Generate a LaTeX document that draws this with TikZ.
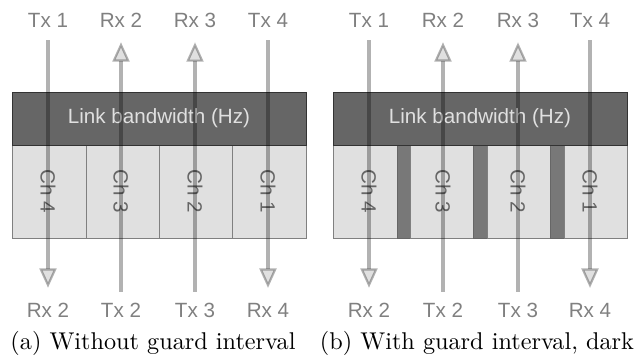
\documentclass[tikz,border=0pt]{standalone}
\usepackage{fontspec}
\newfontfamily\labelfont{Liberation Sans}
\usetikzlibrary{arrows.meta}

\begin{document}
\begin{tikzpicture}[x=0.4125pt, y=-0.4125pt,
    lbl/.style={inner sep=0pt, text=black!50, font=\labelfont\fontsize{8.5}{10}\selectfont},
    chlbl/.style={lbl, text=black!60, rotate=-90},
    hdr/.style={lbl, text=black!12},
    band/.style={fill=black!60, draw=black!80, line width=0.4pt},
    chan/.style={fill=black!12, draw=black!50, line width=0.4pt},
    guard/.style={fill=black!53, draw=black!60, line width=0.4pt},
    sig/.style={draw=black, opacity=0.3, line width=1.5pt,
        -{Triangle[length=8pt, width=7pt, fill=black!40, line width=0.9pt]}},
    sigdown/.style={sig, shorten <=5.2pt, shorten >=6pt},
    sigup/.style={sig, shorten <=4.4pt, shorten >=6pt}]
    \useasboundingbox (0,0) rectangle (640,363);

    % (a) channels side by side
    \draw[chan] (12,145) rectangle (86,238);
    \draw[chan] (86,145) rectangle (159,238);
    \draw[chan] (159,145) rectangle (232,238);
    \draw[chan] (232,145) rectangle (306,238);
    \draw[band] (12,92) rectangle (306,145);
    \node[hdr] (a-bw) at (159,118.5) {Link bandwidth (Hz)};
    \node[chlbl] (a-c4) at (48,191) {Ch 4};
    \node[chlbl] (a-c3) at (121,191) {Ch 3};
    \node[chlbl] (a-c2) at (195,191) {Ch 2};
    \node[chlbl] (a-c1) at (268,191) {Ch 1};
    \node[lbl] (a-t1) at (48,20) {Tx 1};
    \node[lbl] (a-r2t) at (121,20) {Rx 2};
    \node[lbl] (a-r3) at (195,20) {Rx 3};
    \node[lbl] (a-t4) at (268,20) {Tx 4};
    \node[lbl] (a-r2b) at (48,310) {Rx 2};
    \node[lbl] (a-t2) at (121,310) {Tx 2};
    \node[lbl] (a-t3) at (195,310) {Tx 3};
    \node[lbl] (a-r4) at (268,310) {Rx 4};
    \draw[sigdown] (a-t1) -- (a-r2b);
    \draw[sigup] (a-t2) -- (a-r2t);
    \draw[sigup] (a-t3) -- (a-r3);
    \draw[sigdown] (a-t4) -- (a-r4);
    \node (a-cap) at (153,343) {(a) Without guard interval};

    % (b) channels with guard bands
    \draw[chan] (333,145) rectangle (397,238);
    \draw[guard] (397,145) rectangle (410,238);
    \draw[chan] (410,145) rectangle (473,238);
    \draw[guard] (473,145) rectangle (487,238);
    \draw[chan] (487,145) rectangle (550,238);
    \draw[guard] (550,145) rectangle (564,238);
    \draw[chan] (564,145) rectangle (627,238);
    \draw[band] (333,92) rectangle (627,145);
    \node[hdr] (b-bw) at (480,118.5) {Link bandwidth (Hz)};
    \node[chlbl] (b-c4) at (369,191) {Ch 4};
    \node[chlbl] (b-c3) at (443,191) {Ch 3};
    \node[chlbl] (b-c2) at (518,191) {Ch 2};
    \node[chlbl] (b-c1) at (590,191) {Ch 1};
    \node[lbl] (b-t1) at (369,20) {Tx 1};
    \node[lbl] (b-r2t) at (443,20) {Rx 2};
    \node[lbl] (b-r3) at (518,20) {Rx 3};
    \node[lbl] (b-t4) at (590,20) {Tx 4};
    \node[lbl] (b-r2b) at (369,310) {Rx 2};
    \node[lbl] (b-t2) at (443,310) {Tx 2};
    \node[lbl] (b-t3) at (518,310) {Tx 3};
    \node[lbl] (b-r4) at (590,310) {Rx 4};
    \draw[sigdown] (b-t1) -- (b-r2b);
    \draw[sigup] (b-t2) -- (b-r2t);
    \draw[sigup] (b-t3) -- (b-r3);
    \draw[sigdown] (b-t4) -- (b-r4);
    \node (b-cap) at (477,343) {(b) With guard interval, dark};
\end{tikzpicture}
\end{document}
